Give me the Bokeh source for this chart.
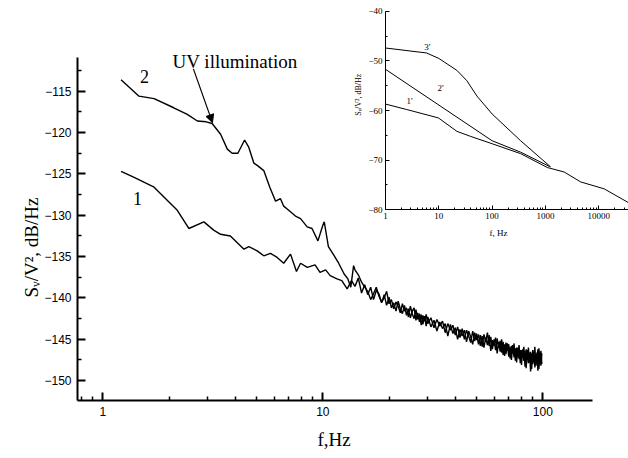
import math
from bokeh.plotting import figure
from bokeh.models import (LogAxis, LinearAxis, Range1d, LogScale, FixedTicker,
                          Label, Arrow, NormalHead, PrintfTickFormatter, Title)
from bokeh.embed import file_html
from bokeh.resources import INLINE

# ---------------- main chart data ----------------
# curve 2 (UV illumination), low-frequency part
f2_low = [1.21, 1.46, 1.71, 2.10, 2.42, 2.69, 2.95, 3.14, 3.43, 3.68,
          3.87, 4.11, 4.41, 4.61, 4.86, 5.05, 5.39, 5.74, 6.10, 6.42,
          6.64, 6.93, 7.51, 7.92, 8.49, 8.93, 9.50, 10.0, 10.15, 10.6,
          11.2, 11.8, 12.5, 13.0, 13.4, 13.8]
v2_low = [-113.6, -115.6, -115.9, -117.0, -117.8, -118.6, -118.7, -118.9, -120.2, -122.0,
          -122.5, -122.5, -120.9, -121.8, -123.7, -124.0, -124.6, -126.6, -128.3, -128.0,
          -128.9, -129.3, -130.1, -130.4, -131.4, -131.6, -133.1, -131.2, -130.8, -133.8,
          -134.8, -135.8, -137.1, -137.7, -138.7, -136.1]

# curve 1 (dark), low-frequency part
f1_low = [1.21, 1.38, 1.71, 2.18, 2.46, 2.88, 3.19, 3.43, 3.80, 4.38,
          4.61, 5.03, 5.39, 5.78, 6.20, 6.64, 7.13, 7.59, 7.92, 8.50,
          9.22, 9.71, 10.3, 10.8, 11.6, 12.2, 12.9, 13.5]
v1_low = [-124.7, -125.4, -126.6, -129.4, -131.6, -130.8, -131.8, -132.3, -132.5, -134.1,
          -133.8, -134.3, -134.9, -134.6, -135.1, -135.8, -134.7, -136.8, -135.8, -136.3,
          -136.0, -136.9, -136.6, -137.3, -137.7, -137.9, -138.9, -137.9]

# noisy high-frequency part (shared frequency samples)
f_noise = [14.0, 14.5, 15.0, 15.5, 16.0, 16.5, 17.0, 17.5, 18.0, 18.5,
           19.0, 19.5, 20.0, 20.5, 21.0, 21.5, 22.0, 22.5, 23.0, 23.5,
           24.0, 24.5, 25.0, 25.5, 26.0, 26.5, 27.0, 27.5, 28.0, 28.5,
           29.0, 29.5, 30.0,
           31, 32, 33, 34, 35, 36, 37, 38, 39, 40,
           41, 42, 43, 44, 45, 46, 47, 48, 49, 50,
           51, 52, 53, 54, 55, 56, 57, 58, 59, 60,
           61, 62, 63, 64, 65, 66, 67, 68, 69, 70,
           71, 72, 73, 74, 75, 76, 77, 78, 79, 80,
           81, 82, 83, 84, 85, 86, 87, 88, 89, 90,
           91, 92, 93, 94, 95, 96, 97, 98, 99]
v2_noise = [-136.6, -137.2, -138.1, -138.7, -139.2, -140.2, -139.5, -138.7, -139.8, -140.5,
            -140.0, -139.2, -140.7, -140.2, -141.3, -140.5, -141.0, -141.8, -140.7, -141.6,
            -141.2, -142.3, -141.0, -141.9, -142.5, -141.4, -142.6, -141.9, -143.3, -142.1,
            -142.8, -142.0, -143.1,
            -142.4, -143.6, -142.6, -143.4, -142.8, -144.2, -143.1, -143.9, -143.3, -144.5,
            -143.5, -144.8, -143.7, -145.0, -143.9, -144.6, -145.4, -144.0, -145.2, -144.3,
            -145.6, -144.5, -145.9, -144.4, -145.3, -144.2, -145.8, -144.7, -146.2, -145.0,
            -146.3, -144.9, -146.0, -145.2, -146.6, -145.3, -147.0, -145.4, -146.4, -145.6,
            -147.3, -145.8, -146.7, -145.5, -147.6, -146.0, -147.2, -145.7, -147.9, -146.3,
            -147.0, -145.9, -148.3, -146.2, -147.5, -146.0, -147.8, -146.5, -148.6, -146.3,
            -147.4, -145.9, -148.2, -146.6, -148.8, -146.1, -147.7, -146.4, -148.0]
v1_noise = [-138.6, -137.6, -139.4, -138.4, -139.6, -138.7, -140.2, -139.1, -139.5, -140.6,
            -139.6, -140.9, -139.9, -141.2, -140.6, -141.6, -140.4, -141.3, -141.9, -140.9,
            -142.1, -141.3, -142.4, -141.6, -141.2, -142.7, -141.8, -142.9, -142.0, -143.2,
            -142.2, -143.4, -142.3,
            -143.5, -142.7, -144.0, -142.9, -143.7, -143.1, -144.6, -143.2, -144.3, -143.6,
            -145.0, -143.8, -144.6, -143.9, -145.3, -144.0, -144.7, -145.6, -144.2, -145.1,
            -144.4, -145.8, -144.6, -146.0, -144.8, -145.7, -144.5, -146.4, -145.1, -145.8,
            -144.8, -146.7, -145.3, -146.5, -145.0, -146.9, -145.6, -146.8, -145.5, -147.1,
            -145.9, -147.5, -145.7, -147.2, -146.1, -147.8, -146.0, -147.4, -146.3, -148.1,
            -146.2, -147.6, -146.4, -148.5, -146.3, -147.9, -146.6, -148.9, -146.7, -148.0,
            -146.5, -148.4, -146.8, -147.5, -146.2, -148.6, -146.9, -148.2, -146.7]

x_major = [1, 10, 100]
x_minor = [0.8, 0.9, 2, 3, 4, 5, 6, 7, 8, 9, 20, 30, 40, 50, 60, 70, 80, 90]
y_major = [-150, -145, -140, -135, -130, -125, -120, -115]
y_minor = [-147.5, -142.5, -137.5, -132.5, -127.5, -122.5, -117.5, -112.5]

# ---------------- inset data ----------------
f3i = [1, 5.9, 10, 21.8, 33.6, 52, 100, 343, 1260]
v3i = [-47.4, -48.4, -49.5, -51.9, -54.0, -57.1, -60.7, -66.1, -71.4]
f2i = [1, 100, 343, 1200]
v2i = [-51.7, -66.1, -68.4, -71.3]
f1i = [1, 2.49, 9.85, 21.8, 39.0, 100, 343, 1090]
v1i = [-58.7, -59.8, -61.5, -64.2, -65.2, -66.7, -68.7, -71.5]
fci = [1090, 2250, 4600, 12700, 37900]
vci = [-71.5, -72.4, -74.4, -75.8, -78.7]

ix_major = [1, 10, 100, 1000, 10000]
ix_minor = [2, 3, 4, 5, 6, 7, 8, 9, 20, 30, 40, 50, 60, 70, 80, 90,
            200, 300, 400, 500, 600, 700, 800, 900,
            2000, 3000, 4000, 5000, 6000, 7000, 8000, 9000, 20000, 30000]
iy_major = [-80, -70, -60, -50, -40]
iy_minor = [-75, -65, -55, -45]

f2_all = f2_low + f_noise
v2_all = v2_low + v2_noise
f1_all = f1_low + f_noise
v1_all = v1_low + v1_noise

serif = "Liberation Serif"

p = figure(width=628, height=458, x_axis_type="log",
           x_range=Range1d(0.767, 245.2), y_range=Range1d(-152.4, -104.03),
           output_backend="svg", toolbar_location=None,
           min_border_left=77, min_border_right=0, min_border_top=0, min_border_bottom=58)
p.outline_line_color = None
p.grid.visible = False
p.background_fill_color = "white"

xa = p.xaxis[0]
xa.ticker = FixedTicker(ticks=x_major, minor_ticks=x_minor)
xa.formatter = PrintfTickFormatter(format="%d")
xa.bounds = (0.767, 168)
ya = p.yaxis[0]
ya.ticker = FixedTicker(ticks=y_major, minor_ticks=y_minor)
ya.bounds = (-152.4, -110.9)
for ax in (xa, ya):
    ax.axis_line_width = 2
    ax.major_tick_in = 8
    ax.major_tick_out = 0
    ax.minor_tick_in = 4
    ax.minor_tick_out = 0
    ax.major_tick_line_width = 2
    ax.minor_tick_line_width = 1.5
    ax.major_label_text_font = "Liberation Sans"
    ax.major_label_text_font_size = "12px"
    ax.major_label_text_color = "black"
    ax.major_label_standoff = 6

p.add_layout(Title(text="S\u1d65/V\u00b2, dB/Hz", align="left", offset=103,
                   text_font=serif, text_font_size="19px", text_font_style="normal",
                   text_color="black", standoff=0), "left")
p.add_layout(Title(text="f,Hz", align="left", offset=240,
                   text_font=serif, text_font_size="19px", text_font_style="normal",
                   text_color="black", standoff=16), "below")

p.line(f2_all, v2_all, line_color="black", line_width=1.4)
p.line(f1_all, v1_all, line_color="black", line_width=1.4)

# inset ranges / axes
p.extra_x_ranges = {"ix": Range1d(1.66e-6, 36240)}
p.extra_y_ranges = {"iy": Range1d(-118.47, -37.82)}
p.extra_x_scales = {"ix": LogScale()}

ixa = LogAxis(x_range_name="ix", y_range_name="iy", fixed_location=-80,
              bounds=(1, 40000),
              ticker=FixedTicker(ticks=ix_major, minor_ticks=ix_minor),
              formatter=PrintfTickFormatter(format="%d"))
iya = LinearAxis(x_range_name="ix", y_range_name="iy", fixed_location=1,
                 bounds=(-80, -40),
                 ticker=FixedTicker(ticks=iy_major, minor_ticks=iy_minor))
for ax in (ixa, iya):
    ax.axis_line_width = 1
    ax.major_tick_in = 4
    ax.major_tick_out = 0
    ax.minor_tick_in = 2
    ax.minor_tick_out = 0
    ax.major_label_text_font = serif
    ax.major_label_text_font_size = "9px"
    ax.major_label_text_color = "black"
    ax.major_label_standoff = 3
p.add_layout(ixa, "below")
p.add_layout(iya, "left")

for fx, vy in ((f3i, v3i), (f2i, v2i), (f1i, v1i), (fci, vci)):
    p.line(fx, vy, x_range_name="ix", y_range_name="iy", line_color="black", line_width=1)

# annotations - main
p.add_layout(Label(x=3.99, y=-111.4, text="UV illumination", text_align="center",
                   text_baseline="middle", text_font=serif, text_font_size="19px",
                   text_color="black"))
p.add_layout(Label(x=1.547, y=-113.2, text="2", text_align="center",
                   text_baseline="middle", text_font=serif, text_font_size="18px",
                   text_color="black"))
p.add_layout(Label(x=1.437, y=-128.0, text="1", text_align="center",
                   text_baseline="middle", text_font=serif, text_font_size="18px",
                   text_color="black"))
p.add_layout(Arrow(end=NormalHead(size=8, fill_color="black", line_color="black"),
                   x_start=2.58, y_start=-112.3, x_end=3.15, y_end=-118.8,
                   line_width=1.2, line_color="black"))

# annotations - inset
for tx, ty, t in ((6.06, -47.2, "3'"), (10.8, -55.4, "2'"), (2.82, -58.0, "1'")):
    p.add_layout(Label(x=tx, y=ty, text=t, x_range_name="ix", y_range_name="iy",
                       text_align="center", text_baseline="middle",
                       text_font=serif, text_font_size="9px", text_color="black"))
p.add_layout(Label(x=131.9, y=-84.6, text="f, Hz", x_range_name="ix", y_range_name="iy",
                   text_align="center", text_baseline="middle",
                   text_font=serif, text_font_size="9px", text_color="black"))
p.add_layout(Label(x=0.311, y=-56.8, text="S\u1d65/V\u00b2, dB/Hz", angle=math.pi / 2,
                   x_range_name="ix", y_range_name="iy",
                   text_align="center", text_baseline="middle",
                   text_font=serif, text_font_size="8px", text_color="black"))

open("out.html", "w").write(file_html(p, INLINE))
